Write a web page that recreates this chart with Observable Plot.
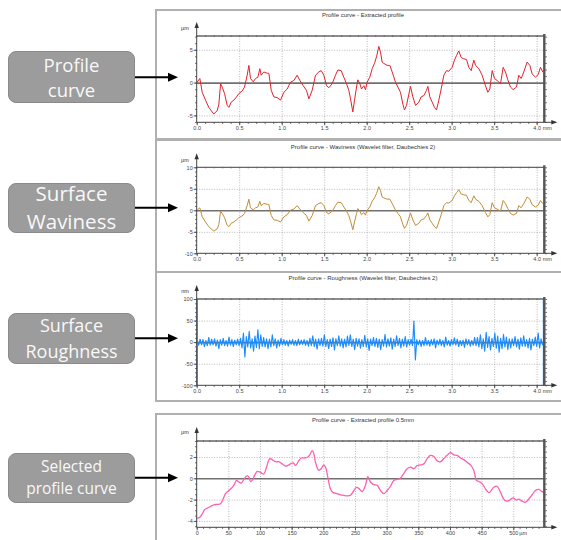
<!DOCTYPE html>
<html><head><meta charset="utf-8">
<script src="https://cdn.jsdelivr.net/npm/d3@7"></script>
<script src="https://cdn.jsdelivr.net/npm/@observablehq/plot@0.6"></script>
<style>
html,body{margin:0;padding:0;background:#fff;}
#page{position:relative;width:561px;height:540px;overflow:hidden;background:#fff;}
.box{position:absolute;left:155px;width:430px;border:2px solid #b0b0b0;box-sizing:border-box;background:#fff;}
.lab{position:absolute;left:8px;width:127px;box-sizing:border-box;background:#9c9c9c;border:1px solid #8a8a8a;border-radius:8px;color:#f8f8f8;font-family:"Open Sans",sans-serif;display:flex;flex-direction:column;align-items:center;justify-content:center;text-align:center;}
.lab div{white-space:nowrap;}
.panel{position:absolute;left:157px;}
#arrows{position:absolute;left:0;top:0;pointer-events:none;}
</style></head>
<body><div id="page"></div>
<script>
// ---------- data ----------
const labelLines = [["Profile","curve"],["Surface","Waviness"],["Surface","Roughness"],["Selected","profile curve"]];
const panelTitles = ["Profile curve - Extracted profile","Profile curve - Waviness (Wavelet filter, Daubechies 2)","Profile curve - Roughness (Wavelet filter, Daubechies 2)","Profile curve - Extracted profile 0.5mm"];

// profile curve (mm, µm)
const profileX = [0,0.031,0.059,0.098,0.137,0.176,0.196,0.235,0.255,0.275,
0.294,0.322,0.353,0.373,0.4,0.431,0.463,0.49,0.529,0.557,
0.588,0.608,0.627,0.659,0.686,0.714,0.737,0.753,0.784,0.824,
0.843,0.871,0.902,0.941,0.98,1.02,1.059,1.098,1.137,1.176,
1.208,1.247,1.286,1.314,1.353,1.392,1.431,1.459,1.49,1.522,
1.549,1.588,1.627,1.655,1.694,1.725,1.757,1.784,1.804,1.831,
1.851,1.875,1.89,1.914,1.933,1.961,1.98,2.0,2.031,2.059,
2.086,2.11,2.137,2.157,2.176,2.196,2.235,2.267,2.294,2.333,
2.361,2.392,2.42,2.439,2.463,2.49,2.51,2.537,2.569,2.608,
2.635,2.667,2.698,2.714,2.737,2.765,2.792,2.816,2.843,2.871,
2.902,2.933,2.961,3.0,3.027,3.051,3.078,3.106,3.137,3.169,
3.196,3.224,3.255,3.275,3.314,3.353,3.392,3.42,3.443,3.471,
3.498,3.529,3.569,3.6,3.627,3.655,3.686,3.718,3.757,3.784,
3.812,3.843,3.882,3.914,3.941,3.98,4.012,4.039,4.067];
const profileY = [0.15,0.7,-1.4,-2.6,-3.7,-4.4,-4.7,-4.2,-3.2,-0.1,
-0.6,-1.6,-3.4,-3.7,-2.9,-2.6,-2.1,-1.6,-1.2,-0.6,
1.2,2.7,0.7,0.2,0.7,0.9,2.2,1.2,1.7,1.5,
1.5,-1.1,-2.1,-2.2,-2.6,-1.4,-0.9,0.15,0.4,1.2,
0.4,-0.4,-1.1,-2.4,-1.1,1.2,1.7,1.9,1.2,-0.4,
-0.7,-0.1,1.2,2.0,1.9,0.9,-0.1,-1.1,-2.4,-4.4,
-2.6,-0.6,0.5,-0.1,-0.9,-0.4,-1.0,0.15,0.9,2.2,
3.0,4.0,5.6,4.7,3.2,3.0,2.7,2.7,1.7,0.15,
-0.6,-1.4,-3.2,-4.1,-3.4,-1.7,-0.5,-2.1,-3.4,-2.9,
-2.1,-1.9,-1.1,-0.5,-2.1,-2.9,-3.7,-4.1,-2.6,-0.9,
1.2,1.9,1.8,2.4,3.5,4.2,4.9,3.9,3.7,3.6,
2.4,1.9,3.5,2.7,2.2,1.2,-0.4,-1.4,-0.9,1.9,
0.7,0.4,-0.1,2.4,1.7,0.5,-0.6,-1.0,-0.6,1.2,
0.7,1.7,3.2,2.7,1.4,0.9,1.3,2.4,1.7];

// waviness: the picture shows the same shape as the profile
const wavinessX = profileX;
const wavinessY = profileY;

// roughness (nm), samples every 0.017 mm
const roughnessStep = 0.017;
const roughnessY = [4,-6,8,-5,7,-9,5,-7,12,-6,8,-5,9,-8,6,-14,7,-6,10,-7,5,-8,13,-6,7,-9,6,-5,8,-7,
10,-12,22,-33,14,-10,26,-12,9,-20,15,-11,30,-14,18,-9,12,-10,
9,-14,8,-10,18,-7,9,-12,6,-8,10,
-5,7,-6,5,-8,6,-4,7,-6,5,-7,8,-5,6,-4,7,-6,5,
-8,10,-7,16,-9,8,-15,9,-7,10,-8,18,-9,7,-14,8,-9,11,-17,9,
-7,16,-8,9,-12,8,-10,15,-7,18,-9,8,-16,10,-8,9,-13,7,-9,17,
-10,9,-18,8,-7,12,-9,10,-11,8,-16,7,-8,19,-10,9,-8,11,-15,8,
-9,16,-7,10,-12,8,-8,14,-10,7,
-6,8,-7,50,-40,
7,-5,6,-9,5,-7,12,-6,5,-8,7,-5,9,-12,6,-5,8,-7,5,-10,13,-6,5,-8,7,-5,11,-6,8,-9,5,-7,6,-11,9,-5,7,-8,5,-6,12,-7,
12,-10,18,-14,9,-20,24,-11,14,-17,10,-9,22,-13,15,-22,10,-14,19,-10,13,-16,9,-12,
9,-7,14,-10,8,-15,11,-8,16,-9,7,-12,10,-17,8,-7,13,-9,22,-12,9,-5];

// selected profile 0.5 mm (µm, µm)
const selX = [0,4.2,7.9,11.6,15.8,21,26.3,31.6,36.8,41,
44.7,50,55.3,58.9,62.1,65.8,69.5,73.7,78.9,81.6,
84.2,86.8,90.5,94.7,100,105.3,109.5,114.7,118.4,123.7,
128.9,134.2,139.5,143.2,147.4,151.6,155.3,160.5,164.2,169.5,
173.7,177.9,181.6,184.2,186.8,192.1,195.8,200,202.6,206.3,
210.5,214.7,221,226.3,231.6,236.8,242.1,247.4,251.6,255.3,
260.5,265.8,269.5,273.7,278.9,284.2,289.5,294.7,300,305.3,
310.5,315.8,320,325.3,331.6,336.8,342.1,347.4,352.6,357.9,
363.2,368.4,373.7,378.9,384.2,389.5,394.7,400,405.3,410.5,
415.8,421.1,426.3,431.6,436.8,441,444.7,450,455.3,460.5,
463.2,468.4,473.7,478.9,484.2,488.4,493.7,498.9,504.2,507.9,
513.2,518.4,523.7,528.9,534.2,539.5,544.7,548.9];
const selY = [-3.7,-3.6,-3.3,-2.9,-2.75,-2.6,-2.45,-2.4,-2.35,-1.9,
-1.4,-1.1,-0.8,-0.5,-0.15,-0.3,-0.4,-0.05,0.3,0.15,
-0.25,-0.15,0.3,0.7,0.6,0.45,1.1,1.9,1.8,1.6,
1.6,1.4,1.2,1.25,1.4,1.5,1.25,1.7,1.95,1.95,
2.0,2.25,2.65,2.35,1.55,0.8,0.95,1.3,1.1,0.15,
-0.95,-1.3,-1.4,-1.5,-1.55,-1.6,-1.55,-1.1,-0.8,-0.9,
-1.2,-0.6,0.2,-0.3,-0.55,-0.6,-1.1,-1.4,-1.1,-0.7,
-0.15,-0.05,0,0.4,0.95,1.1,0.95,1.25,1.3,1.4,
1.9,2.2,2.1,1.7,1.6,1.9,2.2,2.45,2.25,2.2,
1.95,1.8,1.55,1.3,0.8,-0.15,-0.25,-0.45,-0.95,-1.3,
-1.2,-0.8,-0.7,-1.25,-1.9,-2.1,-2.0,-1.8,-2.0,-1.9,
-2.1,-2.2,-1.9,-1.5,-1.1,-1.0,-1.2,-1.3];

// tick labels
const mmTicks = [0,0.5,1,1.5,2,2.5,3,3.5,4];
const umTicks = [0,50,100,150,200,250,300,350,400,450,500];
const yTicks1 = [-5,0,5];
const yTicks2 = [-10,-5,0,5,10];
const yTicks3 = [-100,-50,0,50,100];
const yTicks4 = [-4,-2,0,2];

// ---------- layout ----------
const page = document.getElementById("page");
const boxes = [[9,131],[139,134],[271,131],[413,140]];
boxes.forEach(([t,h]) => {
  const d = document.createElement("div"); d.className = "box";
  d.style.top = t + "px"; d.style.height = h + "px"; page.appendChild(d);
});

const labTops = [50.7,182.7,313.3,452.7], labH = [52.6,50.6,51,50.6];
const labFont = [18.5,20.5,18,15.5], labLH = [25,27.7,25.7,21.6];
labelLines.forEach((lines,i) => {
  const d = document.createElement("div"); d.className = "lab";
  d.style.top = labTops[i] + "px"; d.style.height = labH[i] + "px";
  d.style.fontSize = labFont[i] + "px"; d.style.lineHeight = labLH[i] + "px";
  lines.forEach(s => { const e = document.createElement("div"); e.textContent = s; d.appendChild(e); });
  page.appendChild(d);
});

const W = 404, ML = 39.7, MR = 16.7;
function panel(cfg) {
  const gridStyle = {stroke: "#8a8a8a", strokeOpacity: 0.75, strokeDasharray: "1,1.5", strokeWidth: 0.8};
  const ax = {stroke: "#555", label: null};
  const chart = Plot.plot({
    width: W, height: cfg.h, marginLeft: ML, marginRight: MR, marginTop: cfg.mt, marginBottom: cfg.mb,
    x: {domain: cfg.xDomain}, y: {domain: cfg.yDomain},
    style: {fontFamily: "Liberation Sans, Arial, sans-serif", fontSize: "5.5px", color: "#444", background: "transparent", overflow: "visible"},
    marks: [
      Plot.gridX(cfg.xGrid, gridStyle),
      Plot.gridY(cfg.yGrid, gridStyle),
      Plot.ruleY([0], {stroke: "#707070", strokeWidth: 1.6}),
      ...cfg.marks,
      Plot.axisX(cfg.xMinor, {...ax, tickSize: 1.5, fill: "none"}),
      Plot.axisX(cfg.xMinor, {...ax, anchor: "top", tickSize: 1.5, fill: "none"}),
      Plot.axisX(cfg.xTicks, {...ax, tickSize: 3, tickPadding: 0.3, tickFormat: cfg.fmtX, fill: "#444"}),
      Plot.axisY(cfg.yMinor, {...ax, tickSize: 1.5, fill: "none"}),
      Plot.axisY(cfg.yMinor, {...ax, anchor: "right", tickSize: 1.5, fill: "none"}),
      Plot.axisY(cfg.yTicks, {...ax, tickSize: 3, tickPadding: 1.5, tickFormat: d => String(d), fill: "#444"})
    ]
  });
  chart.classList.add("panel");
  chart.style.top = cfg.top + "px";
  const g = d3.select(chart);
  const x0 = ML, x1 = W - MR, y0 = cfg.mt, y1 = cfg.h - cfg.mb;
  const xs = v => x0 + (v - cfg.xDomain[0]) / (cfg.xDomain[1] - cfg.xDomain[0]) * (x1 - x0);
  g.append("line").attr("x1", x0).attr("x2", x1).attr("y1", y0).attr("y2", y0).attr("stroke", "#666").attr("stroke-width", 1.3);
  g.append("line").attr("x1", x1).attr("x2", x1).attr("y1", y0 - 2).attr("y2", y1).attr("stroke", "#555").attr("stroke-width", 2.4);
  g.append("line").attr("x1", x0).attr("x2", x0).attr("y1", y1).attr("y2", y0 - 10).attr("stroke", "#444").attr("stroke-width", 1);
  g.append("path").attr("d", `M${x0},${y0-14}L${x0-2.2},${y0-8}L${x0+2.2},${y0-8}Z`).attr("fill", "#333");
  g.append("line").attr("x1", x0).attr("x2", x1 + 9).attr("y1", y1).attr("y2", y1).attr("stroke", "#444").attr("stroke-width", 1);
  g.append("path").attr("d", `M${x1+13},${y1}L${x1+7},${y1-2.2}L${x1+7},${y1+2.2}Z`).attr("fill", "#333");
  const txt = (x, y, s, anchor, fs) => g.append("text").attr("x", x).attr("y", y).attr("text-anchor", anchor)
      .attr("dominant-baseline", "middle").attr("fill", "#333").attr("font-size", fs).text(s);
  txt(206, cfg.titleY, cfg.title, "middle", "6px");
  txt(28, cfg.unitYY, cfg.unitY, "middle", "5.5px");
  txt(xs(cfg.xTicks[cfg.xTicks.length - 1]) + 6, y1 + 5.8, cfg.unitX, "start", "5.5px").attr("fill", "#444");
  page.appendChild(chart);
}

const mmMinor = d3.range(0, 4.05, 0.1);
const pts = (xs, ys) => xs.map((x, i) => ({x, y: ys[i]}));

panel({top: 9, h: 130, mt: 27, mb: 16.7, xDomain: [0, 4.09], yDomain: [-6.05, 7.1],
  xTicks: mmTicks, xMinor: mmMinor, xGrid: mmTicks.slice(1), fmtX: d => d.toFixed(1), unitX: "mm",
  yTicks: yTicks1, yMinor: d3.range(-6, 8, 1), yGrid: [-5, 5], unitY: "µm", unitYY: 20,
  title: panelTitles[0], titleY: 6,
  marks: [Plot.line(pts(profileX, profileY), {x: "x", y: "y", stroke: "#e0222b", strokeWidth: 1})]});

panel({top: 140, h: 132, mt: 27.3, mb: 18.7, xDomain: [0, 4.09], yDomain: [-10, 10],
  xTicks: mmTicks, xMinor: mmMinor, xGrid: mmTicks.slice(1), fmtX: d => d.toFixed(1), unitX: "mm",
  yTicks: yTicks2, yMinor: d3.range(-10, 11, 1), yGrid: [-5, 5], unitY: "µm", unitYY: 20.7,
  title: panelTitles[1], titleY: 7,
  marks: [Plot.line(pts(wavinessX, wavinessY), {x: "x", y: "y", stroke: "#bf8d38", strokeWidth: 1})]});

panel({top: 272, h: 129, mt: 27, mb: 15.7, xDomain: [0, 4.09], yDomain: [-100, 100],
  xTicks: mmTicks, xMinor: mmMinor, xGrid: mmTicks.slice(1), fmtX: d => d.toFixed(1), unitX: "mm",
  yTicks: yTicks3, yMinor: d3.range(-100, 101, 10), yGrid: [-50, 50], unitY: "nm", unitYY: 19.3,
  title: panelTitles[2], titleY: 6,
  marks: [
    Plot.line(roughnessY.map((y, i) => ({x: i * roughnessStep, y})), {x: "x", y: "y", stroke: "#1a8cff", strokeWidth: 1.15}),
    Plot.ruleX([0, 4.075], {stroke: "#1a8cff", strokeWidth: 1.4})
  ]});

panel({top: 413, h: 127, mt: 28, mb: 12.7, xDomain: [0, 549], yDomain: [-4.6, 3.5],
  xTicks: umTicks, xMinor: d3.range(0, 541, 10), xGrid: umTicks.slice(1), fmtX: d => String(d), unitX: "µm",
  yTicks: yTicks4, yMinor: d3.range(-4.5, 3.6, 0.5), yGrid: [-4, -2, 2], unitY: "µm", unitYY: 20,
  title: panelTitles[3], titleY: 7,
  marks: [Plot.line(pts(selX, selY), {x: "x", y: "y", stroke: "#ff5fb0", strokeWidth: 1.3, curve: "catmull-rom"})]});

// arrows from the labels
const arrowYs = [77.3, 207.7, 338.3, 477.7];
const asvg = d3.select(page).append("svg").attr("id", "arrows").attr("width", 561).attr("height", 540);
arrowYs.forEach(y => {
  asvg.append("line").attr("x1", 135).attr("x2", 170).attr("y1", y).attr("y2", y).attr("stroke", "#000").attr("stroke-width", 2);
  asvg.append("path").attr("d", `M178,${y}L168,${y-4.5}L168,${y+4.5}Z`).attr("fill", "#000");
});
</script></body></html>
